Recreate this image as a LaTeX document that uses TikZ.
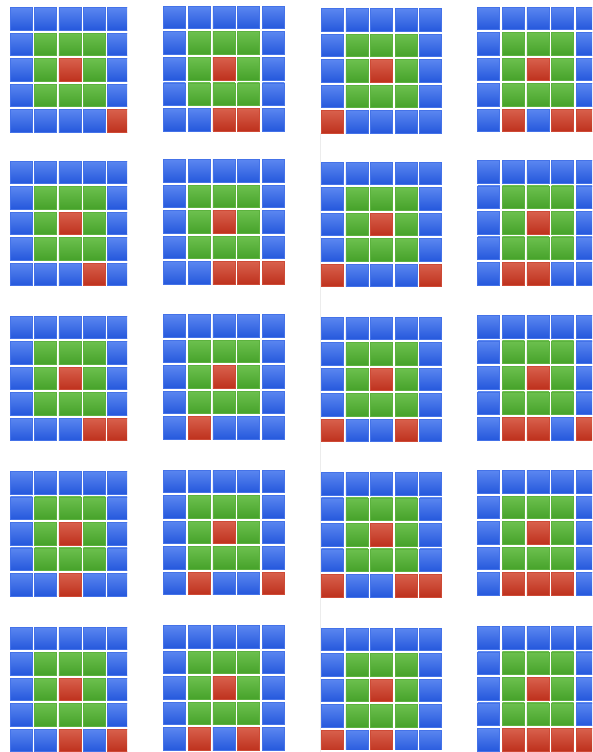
\documentclass[tikz,border=0pt]{standalone}
\usepackage{xcolor}
\usepackage{tikz}
\usetikzlibrary{
  positioning
}
\definecolor{bluetop}{HTML}{5A86F0}
\definecolor{bluemid}{HTML}{2C60E4}
\definecolor{bluebot}{HTML}{2558DC}
\definecolor{blueedge}{HTML}{4472E8}
\definecolor{greentop}{HTML}{6CC04E}
\definecolor{greenmid}{HTML}{4DA930}
\definecolor{greenbot}{HTML}{46A22A}
\definecolor{greenedge}{HTML}{5CB23E}
\definecolor{redtop}{HTML}{D8604C}
\definecolor{redmid}{HTML}{C63722}
\definecolor{redbot}{HTML}{BE311D}
\definecolor{rededge}{HTML}{CE4A36}

\begin{document}
\begin{tikzpicture}[
      x=1pt,
      y=-1pt,
      cell/.style={rectangle, inner sep=0pt, minimum width=22pt, minimum height=22.5pt, anchor=north west, line width=0.7pt, draw=#1edge, top color=#1top, middle color=#1mid, bottom color=#1bot},
      seam/.style={draw=gray!15, line width=0.8pt}
  ]
      % Fundo e recorte da imagem
      \fill[white] (0,0) rectangle (592,752);
      \clip (0,0) rectangle (592,752);

      % Linha clara entre a segunda e a terceira coluna
      \draw[seam] (320,133) -- (320,752);

      % Colunas: numero, x, y, passo, limite direito, limite inferior, inicio da contagem
      \foreach \col/\xo/\yo/\dx/\xmax/\ymax/\base in {
          1/10/7.3/24.3/127/752/0,
          2/163/6/24.75/300/752/5,
          3/321/8.3/24.6/470/749/15,
          4/477.4/6.7/24.6/592/752/10} {
        \begin{scope}
          \clip (\xo-5,0) rectangle (\xmax,\ymax);
          \foreach \row/\ry in {1/0, 2/153.4, 3/308.4, 4/463.7, 5/619.4} {
            \pgfmathtruncatemacro\num{\row+\base}
            \foreach \i in {1,...,5} {
              \foreach \j in {1,...,5} {
                % anel azul, miolo verde, centro vermelho, ultima linha em binario
                \pgfmathtruncatemacro\bit{mod(floor(\num/2^(5-\j)),2)}
                \def\kind{green}
                \ifnum\i=1 \def\kind{blue}\fi
                \ifnum\i=5 \def\kind{blue}\fi
                \ifnum\j=1 \def\kind{blue}\fi
                \ifnum\j=5 \def\kind{blue}\fi
                \ifnum\i\j=33 \def\kind{red}\fi
                \ifnum\i=5 \ifnum\bit=1 \def\kind{red}\fi\fi
                \node[cell=\kind] (g\col\row-\i\j) at ({\xo+(\j-1)*\dx},{\yo+\ry+(\i-1)*25.5}) {};
              }
            }
          }
        \end{scope}
      }
  \end{tikzpicture}
\end{document}
